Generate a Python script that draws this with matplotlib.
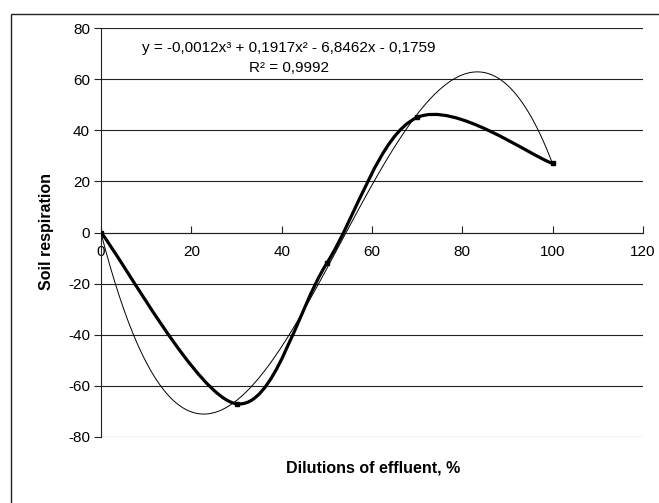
import numpy as np
import matplotlib.pyplot as plt
from matplotlib.path import Path
from matplotlib.patches import PathPatch, Rectangle

plt.rcParams['font.family'] = ['Liberation Sans', 'DejaVu Sans']
plt.rcParams['axes.unicode_minus'] = False

# data
dilution = [0, 30, 50, 70, 100]
respiration = [0, -67, -12, 45, 27]
equation = "y = -0,0012x³ + 0,1917x² - 6,8462x - 0,1759\nR² = 0,9992"

x_ticks = [0, 20, 40, 60, 80, 100, 120]
y_ticks = [-80, -60, -40, -20, 0, 20, 40, 60, 80]


def smooth_path(xs, ys):
    # Excel-like smoothed line: cubic bezier segments through the points
    pts = np.column_stack([xs, ys]).astype(float)
    n = len(pts)
    verts = [pts[0]]
    codes = [Path.MOVETO]
    for i in range(n - 1):
        p_prev = pts[max(i - 1, 0)]
        p_next = pts[min(i + 2, n - 1)]
        c1 = pts[i] + (pts[i + 1] - p_prev) / 6
        c2 = pts[i + 1] - (p_next - pts[i]) / 6
        verts += [c1, c2, pts[i + 1]]
        codes += [Path.CURVE4] * 3
    return Path(verts, codes)


fig = plt.figure(figsize=(6.59, 5.03), dpi=100)
ax = fig.add_axes([101 / 659, 1 - 437 / 503, 542 / 659, 409 / 503])

# outer chart frame (runs off the right and bottom edges)
fig.patches.append(Rectangle((11 / 659, -0.1), 1.2, 1.1 - 14 / 503,
                             transform=fig.transFigure, fill=False,
                             edgecolor='#222222', lw=1.0))

# polynomial trendline from the data
coeffs = np.polyfit(dilution, respiration, 3)
xt = np.linspace(min(dilution), max(dilution), 300)
ax.plot(xt, np.polyval(coeffs, xt), color='black', lw=0.7, zorder=3)

ax.add_patch(PathPatch(smooth_path(dilution, respiration), fill=False,
                       edgecolor='black', lw=2.3, capstyle='round',
                       joinstyle='round', zorder=4))
ax.plot(dilution, respiration, 's', color='black', ms=2.5, zorder=5)

ax.set_xlim(0, 120)
ax.set_ylim(-80, 80)
ax.set_xticks(x_ticks)
ax.set_yticks(y_ticks)
ax.yaxis.grid(True, color='#222222', lw=0.8)
ax.set_axisbelow(True)

ax.spines['top'].set_visible(False)
ax.spines['right'].set_visible(False)
ax.spines['bottom'].set_position(('data', 0))
ax.spines['left'].set_color('#222222')
ax.spines['bottom'].set_color('#222222')
ax.tick_params(axis='x', direction='in', length=5, pad=9, labelsize=11,
               color='#222222')
ax.tick_params(axis='y', direction='out', length=5, pad=3, labelsize=11,
               color='#222222')

fig.text(46 / 659, 1 - 232 / 503, 'Soil respiration', rotation=90,
         ha='center', va='center', fontsize=11.5, fontweight='bold')
fig.text(373 / 659, 1 - 468 / 503, 'Dilutions of effluent, %',
         ha='center', va='center', fontsize=11.5, fontweight='bold')
fig.text(289 / 659, 1 - 58 / 503, equation, ha='center', va='center',
         multialignment='center', fontsize=11, linespacing=1.6)

fig.savefig('out.png', dpi=100)
